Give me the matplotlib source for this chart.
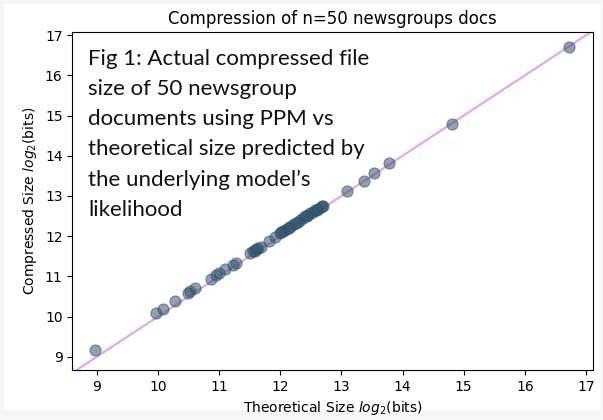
import matplotlib
matplotlib.use("Agg")
import matplotlib.pyplot as plt
from matplotlib.patches import Rectangle

plt.rcParams["font.family"] = ["DejaVu Sans"]

# Theoretical size (log2 bits) vs actual compressed size (log2 bits)
theoretical = [8.97, 9.96, 10.08, 10.28, 10.49, 10.53, 10.61, 10.87, 10.95, 10.99,
               11.10, 11.22, 11.27, 11.50, 11.55, 11.58, 11.63, 11.69, 11.82, 11.99,
               12.04, 12.08, 12.12, 12.17, 12.22, 12.29, 12.33, 12.37, 12.41, 12.45,
               12.49, 12.53, 12.57, 12.62, 12.66, 12.70, 13.09, 13.37, 13.53, 13.78,
               14.81, 16.72, 12.25, 12.02, 11.92, 12.60, 12.68, 12.43, 11.60, 12.14]
compressed = [9.18, 10.08, 10.18, 10.39, 10.59, 10.64, 10.71, 10.94, 11.03, 11.08,
              11.18, 11.28, 11.33, 11.58, 11.62, 11.64, 11.70, 11.74, 11.89, 12.07,
              12.13, 12.16, 12.20, 12.25, 12.30, 12.36, 12.40, 12.45, 12.49, 12.53,
              12.57, 12.60, 12.64, 12.67, 12.72, 12.75, 13.13, 13.36, 13.57, 13.81,
              14.80, 16.70, 12.33, 12.10, 11.99, 12.66, 12.74, 12.51, 11.67, 12.21]
diag = [8.6, 17.1]

fig = plt.figure(figsize=(6.03, 4.20), dpi=100, facecolor="#f6f6f6")
fig.patches.append(Rectangle((4/603, 10/420), 597/603, 406/420, transform=fig.transFigure,
                             facecolor="white", edgecolor="none", zorder=-1))
ax = fig.add_axes([0.120, 0.119, 0.863, 0.804])

ax.plot(diag, diag, color="#e6a6ef", lw=1.6, zorder=1)
ax.scatter(theoretical, compressed, s=64, color="#34566f", alpha=0.55,
           edgecolors="#2c4d68", linewidths=0.8, zorder=2)

ax.set_xlim(8.6, 17.11)
ax.set_ylim(8.67, 17.07)
ax.set_xticks(range(9, 18))
ax.set_yticks(range(9, 18))
ax.tick_params(labelsize=10)
ax.set_xlabel("Theoretical Size $log_2$(bits)", fontsize=10)
ax.set_ylabel("Compressed Size $log_2$(bits)", fontsize=10)
ax.set_title("Compression of n=50 newsgroups docs", fontsize=12)

ax.text(0.03, 0.952,
        "Fig 1: Actual compressed file\nsize of 50 newsgroup\ndocuments using PPM vs\n"
        "theoretical size predicted by\nthe underlying model\u2019s\nlikelihood",
        transform=ax.transAxes, va="top", ha="left", fontsize=16,
        family=["Lato", "DejaVu Sans"], linespacing=1.64, color="#111111")

fig.savefig("out.png", dpi=100, facecolor=fig.get_facecolor())
